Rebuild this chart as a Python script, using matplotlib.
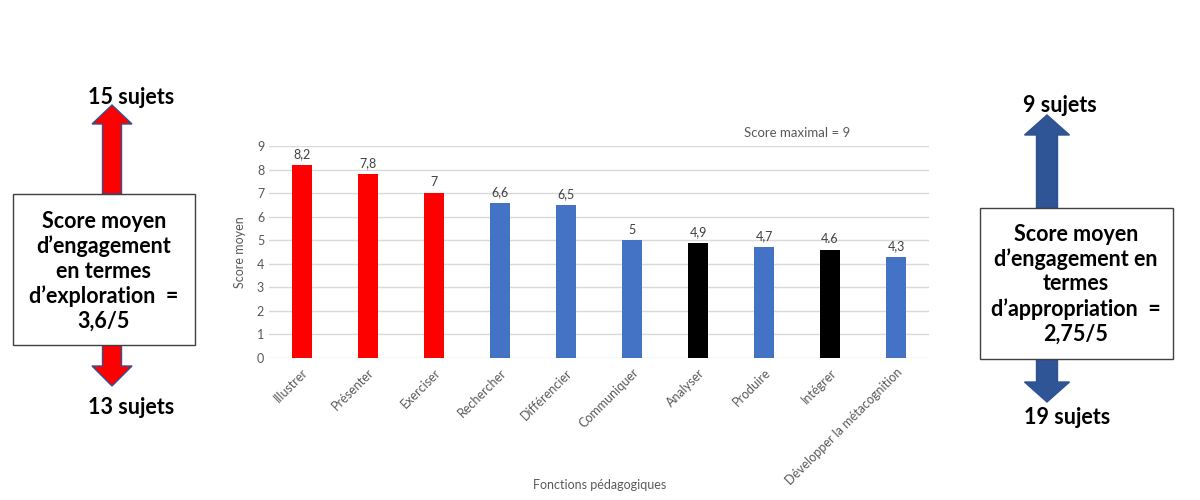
import matplotlib.pyplot as plt
from matplotlib.patches import Polygon, Rectangle

plt.rcParams['font.family'] = ['Lato', 'DejaVu Sans']

fonctions = ["Illustrer", "Présenter", "Exerciser", "Rechercher", "Différencier",
             "Communiquer", "Analyser", "Produire", "Intégrer",
             "Développer la métacognition"]
scores = [8.2, 7.8, 7.0, 6.6, 6.5, 5.0, 4.9, 4.7, 4.6, 4.3]
score_labels = ["8,2", "7,8", "7", "6,6", "6,5", "5", "4,9", "4,7", "4.6", "4,3"]
groupes = ["exploration", "exploration", "exploration", "appropriation", "appropriation",
           "appropriation", "autre", "appropriation", "autre", "appropriation"]

red = '#FF0000'
blue = '#4472C4'
dark_blue = '#2F5597'
grey = '#595959'
group_colors = {"exploration": red, "appropriation": blue, "autre": 'black'}

fig = plt.figure(figsize=(12, 5), dpi=100)

# main bar chart (pixel bounds: x 269..929, y 146..358)
ax = fig.add_axes([269/1200, 1 - 358/500, 660/1200, 212/500])
x = list(range(len(fonctions)))
ax.bar(x, scores, width=0.3, color=[group_colors[g] for g in groupes], zorder=3)
for xi, s, lab in zip(x, scores, score_labels):
    ax.text(xi, s + 0.2, lab, ha='center', va='bottom', fontsize=9, color='#404040')
ax.set_xlim(-0.5, len(fonctions) - 0.5)
ax.set_ylim(0, 9)
ax.set_yticks(range(10))
ax.yaxis.grid(True, color='#D9D9D9', lw=1, zorder=0)
ax.set_xticks(x)
ax.set_xticklabels(fonctions, rotation=45, ha='right', rotation_mode='anchor',
                   fontsize=9.5, color=grey)
ax.tick_params(axis='both', length=0, labelsize=9, labelcolor=grey)
ax.tick_params(axis='x', pad=6)
for sp in ax.spines.values():
    sp.set_visible(False)
ax.set_ylabel("Score moyen", fontsize=9, color=grey, labelpad=8)
ax.text(0.80, 1.06, "Score maximal = 9", transform=ax.transAxes, ha='center',
        va='center', fontsize=9.5, color=grey)
fig.text(0.5, 1 - 485/500, "Fonctions pédagogiques", ha='center', va='center',
         fontsize=9, color=grey)

# overlay for side annotations, pixel coordinates
ov = fig.add_axes([0, 0, 1, 1])
ov.set_xlim(0, 1200)
ov.set_ylim(500, 0)
ov.axis('off')


def arrow(cx, y_base, y_tip, shaft_w, head_w, head_len, color):
    d = 1 if y_tip > y_base else -1
    hb = y_tip - d * head_len
    pts = [(cx - shaft_w/2, y_base), (cx - shaft_w/2, hb), (cx - head_w/2, hb),
           (cx, y_tip), (cx + head_w/2, hb), (cx + shaft_w/2, hb), (cx + shaft_w/2, y_base)]
    ov.add_patch(Polygon(pts, closed=True, facecolor=color, edgecolor='#2F528F', lw=1))


big = dict(ha='center', va='center', fontsize=15.5, fontweight='bold')

# left side: exploration
arrow(112, 194, 105, 19, 40, 19, red)
arrow(112, 345, 386, 19, 40, 20, red)
ov.add_patch(Rectangle((13, 194), 182, 151, facecolor='white', edgecolor='#404040', lw=1))
ov.text(104, 271, "Score moyen\nd’engagement\nen termes\nd’exploration  =\n3,6/5",
        linespacing=1.2, **big)
ov.text(131, 98, "15 sujets", **big)
ov.text(131, 407, "13 sujets", **big)

# right side: appropriation
arrow(1047, 208, 115, 21, 45, 20, dark_blue)
arrow(1047, 359, 402, 21, 45, 20, dark_blue)
ov.add_patch(Rectangle((980, 208), 193, 151, facecolor='white', edgecolor='#404040', lw=1))
ov.text(1076, 284, "Score moyen\nd’engagement en\ntermes\nd’appropriation  =\n2,75/5",
        linespacing=1.2, **big)
ov.text(1060, 106, "9 sujets", **big)
ov.text(1067, 418, "19 sujets", **big)

fig.savefig('out.png', dpi=100)
